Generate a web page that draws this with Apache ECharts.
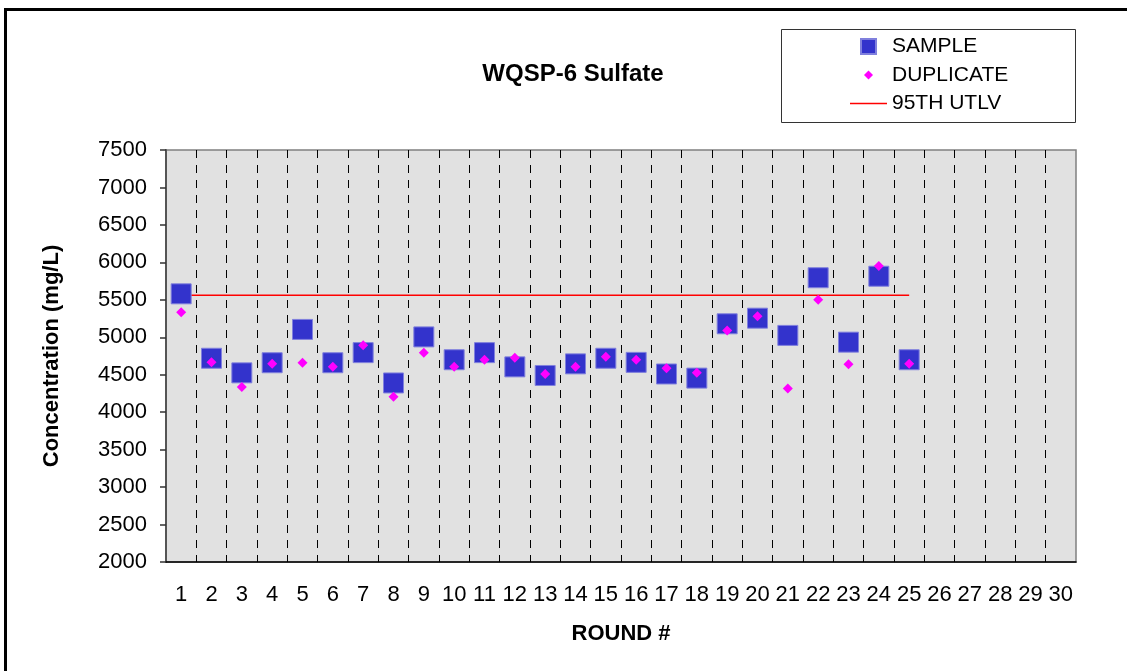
<!DOCTYPE html>
<html>
<head>
<meta charset="utf-8">
<title>WQSP-6 Sulfate</title>
<script src="https://cdn.jsdelivr.net/npm/echarts@6/dist/echarts.min.js"></script>
<style>
  html, body { margin: 0; padding: 0; background: #ffffff; }
  #chart { width: 1127px; height: 671px; }
</style>
</head>
<body>
<div id="chart"></div>
<script>
// Sampling rounds shown on the x axis
const rounds = ['1','2','3','4','5','6','7','8','9','10','11','12','13','14','15',
                '16','17','18','19','20','21','22','23','24','25','26','27','28','29','30'];

// Sulfate concentration (mg/L) per round
const sample = [5580, 4720, 4525, 4660, 5105, 4660, 4795, 4390, 5005, 4700,
                4795, 4605, 4490, 4645, 4720, 4665, 4510, 4455, 5180, 5255,
                5025, 5795, 4935, 5815, 4700];
const duplicate = [5335, 4665, 4335, 4645, 4660, 4605, 4895, 4205, 4795, 4605,
                   4700, 4725, 4510, 4605, 4740, 4700, 4585, 4525, 5090, 5280,
                   4315, 5500, 4640, 5950, 4645];
// 95th upper tolerance limit value, drawn across rounds 1-25
const utlv = [5560, 5560, 5560, 5560, 5560, 5560, 5560, 5560, 5560, 5560,
              5560, 5560, 5560, 5560, 5560, 5560, 5560, 5560, 5560, 5560,
              5560, 5560, 5560, 5560, 5560];

const FONT = '"Liberation Sans", Arial, Helvetica, sans-serif';

const chart = echarts.init(document.getElementById('chart'), null, { renderer: 'canvas' });

chart.setOption({
  animation: false,
  backgroundColor: '#ffffff',
  textStyle: { fontFamily: FONT, color: '#000000' },
  title: {
    text: 'WQSP-6 Sulfate',
    left: 568,
    top: 57,
    textAlign: 'center',
    textStyle: { fontFamily: FONT, fontSize: 24, fontWeight: 'bold', color: '#000000' }
  },
  legend: {
    orient: 'vertical',
    left: 849,
    top: 36,
    itemWidth: 37,
    itemHeight: 15,
    itemGap: 7.5,
    padding: 0,
    textStyle: { fontFamily: FONT, fontSize: 21, lineHeight: 21, color: '#000000' },
    data: [
      { name: 'SAMPLE', icon: 'path://M0,0M37,15M11,0h15v15h-15z' },
      { name: 'DUPLICATE', icon: 'path://M0,0M37,15M18.5,3L23,7.5L18.5,12L14,7.5z' },
      { name: '95TH UTLV', icon: 'path://M0,0M37,15M0,6.75h37v1.5h-37z' }
    ]
  },
  graphic: [
    {
      // outer chart frame
      type: 'rect', silent: true, z: 100,
      shape: { x: 5.5, y: 9.5, width: 1200, height: 700 },
      style: { fill: 'none', stroke: '#000000', lineWidth: 3 }
    },
    {
      // legend box
      type: 'rect', silent: true, z: 100,
      shape: { x: 781.5, y: 29.5, width: 294, height: 93 },
      style: { fill: 'none', stroke: '#333333', lineWidth: 1 }
    }
  ],
  grid: {
    left: 166, top: 150, right: 51, bottom: 109,
    show: true,
    backgroundColor: '#e1e1e1',
    borderColor: '#808080',
    borderWidth: 1.5
  },
  xAxis: {
    type: 'category',
    data: rounds,
    boundaryGap: true,
    name: 'ROUND #',
    nameLocation: 'middle',
    nameGap: 61,
    nameTextStyle: { fontFamily: FONT, fontSize: 22, fontWeight: 'bold', color: '#000000' },
    axisLine: { show: true, lineStyle: { color: '#000000', width: 1.5 } },
    axisTick: { show: false },
    axisLabel: { fontFamily: FONT, fontSize: 22, color: '#000000', margin: 22, interval: 0 },
    splitLine: {
      show: true,
      showMinLine: false,
      showMaxLine: false,
      lineStyle: { color: '#000000', width: 1, type: [8, 7] }
    }
  },
  yAxis: {
    type: 'value',
    min: 2000,
    max: 7500,
    interval: 500,
    name: 'Concentration (mg/L)',
    nameLocation: 'middle',
    nameGap: 103,
    nameRotate: 90,
    nameTextStyle: { fontFamily: FONT, fontSize: 22, fontWeight: 'bold', color: '#000000' },
    axisLine: { show: true, lineStyle: { color: '#555555', width: 2 } },
    axisTick: { show: true, inside: false, length: 6, lineStyle: { color: '#333333', width: 1.5 } },
    axisLabel: {
      fontFamily: FONT, fontSize: 22, color: '#000000', margin: 19,
      formatter: function (v) { return String(v); }
    },
    splitLine: { show: false }
  },
  series: [
    {
      name: 'SAMPLE',
      type: 'scatter',
      data: sample,
      symbol: 'rect',
      symbolSize: 20,
      z: 3,
      itemStyle: { color: '#3333cc', borderColor: '#8080dd', borderWidth: 1, opacity: 1 }
    },
    {
      name: 'DUPLICATE',
      type: 'scatter',
      data: duplicate,
      symbol: 'diamond',
      symbolSize: 10,
      z: 4,
      itemStyle: { color: '#ff00ff', opacity: 1 }
    },
    {
      name: '95TH UTLV',
      type: 'line',
      data: utlv,
      symbol: 'none',
      z: 2,
      lineStyle: { color: '#ff0000', width: 1.5 },
      itemStyle: { color: '#ff0000' }
    }
  ]
});
</script>
</body>
</html>
